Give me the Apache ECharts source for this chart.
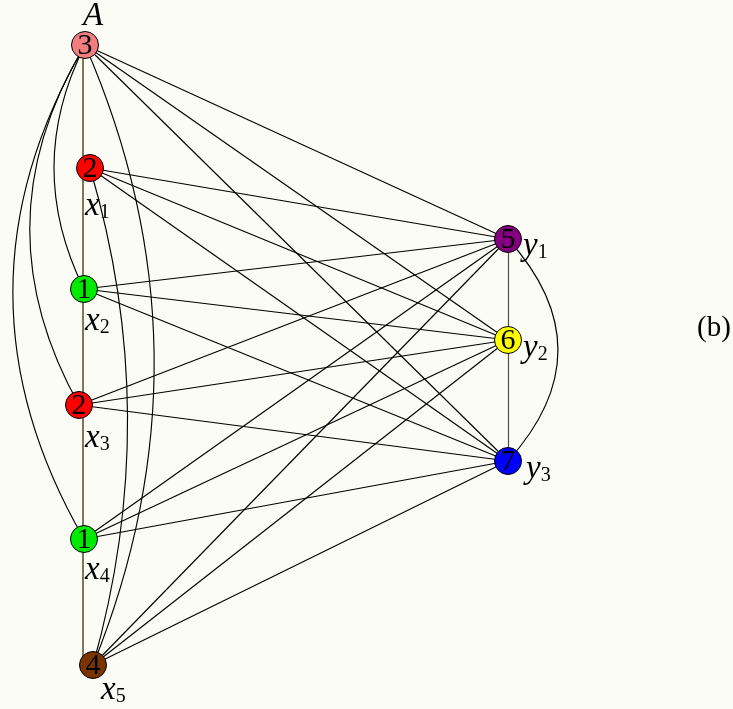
<!DOCTYPE html>
<html>
<head>
<meta charset="utf-8">
<script src="https://cdn.jsdelivr.net/npm/echarts@6/dist/echarts.min.js"></script>
<style>
  html, body { margin: 0; padding: 0; background: #fbfcf6; }
  #chart { width: 733px; height: 709px; }
</style>
</head>
<body>
<div id="chart"></div>
<script>
// ---- graph data ----
const nodeIds     = ['A', 'x1', 'x2', 'x3', 'x4', 'x5', 'y1', 'y2', 'y3'];
const nodeNumbers = [3, 2, 1, 2, 1, 4, 5, 6, 7];
const nodeX       = [85, 90, 84, 79, 84, 93, 508, 508, 508];
const nodeY       = [45, 168, 289, 405, 539, 665, 239, 340, 461];
const nameLetters = ['A', 'x', 'x', 'x', 'x', 'x', 'y', 'y', 'y'];
const nameIndices = ['', '1', '2', '3', '4', '5', '1', '2', '3'];

// every left vertex joined to every right vertex
const straightEdges = [
  ['A', 'y1'], ['A', 'y2'], ['A', 'y3'],
  ['x1', 'y1'], ['x1', 'y2'], ['x1', 'y3'],
  ['x2', 'y1'], ['x2', 'y2'], ['x2', 'y3'],
  ['x3', 'y1'], ['x3', 'y2'], ['x3', 'y3'],
  ['x4', 'y1'], ['x4', 'y2'], ['x4', 'y3'],
  ['x5', 'y1'], ['x5', 'y2'], ['x5', 'y3']
];
const curvedEdges = [['A', 'x2'], ['A', 'x3'], ['A', 'x4'], ['A', 'x5'], ['x1', 'x5'], ['y1', 'y3']];
const rightPath   = [['y1', 'y2'], ['y2', 'y3']];
const leftPath    = ['A', 'x5'];

// ---- styling ----
const nodeColors = {
  A: '#f27e80', x1: '#ff0000', x2: '#00ea00', x3: '#ff0000', x4: '#00ea00',
  x5: '#7a3400', y1: '#840080', y2: '#ffff00', y3: '#0000ff'
};
const bend = { 'A-x2': -0.25, 'A-x3': -0.29, 'A-x4': -0.29, 'A-x5': 0.21, 'x1-x5': 0.145, 'y1-y3': 0.45 };
const nameOffset = {
  A: [-2, -29], x1: [-5, 38], x2: [1, 32], x3: [6, 33], x4: [1, 31],
  x5: [8, 25], y1: [15, 7], y2: [15, 8], y3: [18, 8]
};
const spineShift = -2;
const serif = '"Liberation Serif", "DejaVu Serif", serif';
const ink = '#000000';

const idx = id => nodeIds.indexOf(id);

const graphNodes = nodeIds.map((id, i) => ({
  name: id,
  value: [nodeX[i], nodeY[i]],
  itemStyle: { color: nodeColors[id] }
}));

const links = [];
straightEdges.forEach(([s, t]) => links.push({ source: s, target: t }));
curvedEdges.forEach(([s, t]) => links.push({
  source: s, target: t, lineStyle: { curveness: bend[s + '-' + t] }
}));
rightPath.forEach(([s, t]) => links.push({
  source: s, target: t, lineStyle: { color: '#4d4d4d', width: 1.2 }
}));

const a = idx(leftPath[0]), b = idx(leftPath[1]);
const spine = [[nodeX[a] + spineShift, nodeY[a]], [nodeX[a] + spineShift, nodeY[b]]];

const labelPoints = nodeIds.map((id, i) => ({
  value: [nodeX[i], nodeY[i]],
  label: {
    offset: nameOffset[id],
    formatter: nameIndices[i]
      ? '{m|' + nameLetters[i] + '}{s|' + nameIndices[i] + '}'
      : '{m|' + nameLetters[i] + '}'
  }
}));

const chart = echarts.init(document.getElementById('chart'), null, { renderer: 'canvas' });
chart.setOption({
  backgroundColor: '#fbfcf6',
  animation: false,
  title: {
    text: '(b)', left: 692, top: 309,
    textStyle: { fontFamily: serif, fontSize: 29, fontWeight: 'normal', color: ink }
  },
  grid: { left: 0, right: 0, top: 0, bottom: 0 },
  xAxis: { type: 'value', min: 0, max: 733, show: false },
  yAxis: { type: 'value', min: 0, max: 709, inverse: true, show: false },
  series: [
    {
      type: 'lines',
      coordinateSystem: 'cartesian2d',
      silent: true,
      z: 1,
      lineStyle: { color: '#5a4b1e', width: 1.5, opacity: 1 },
      data: [{ coords: spine }]
    },
    {
      type: 'graph',
      coordinateSystem: 'cartesian2d',
      silent: true,
      z: 2,
      symbol: 'circle',
      symbolSize: 27,
      itemStyle: { borderColor: '#000', borderWidth: 1 },
      lineStyle: { color: '#000', width: 1.15, opacity: 1 },
      label: {
        show: true, position: 'inside', color: ink,
        fontFamily: serif, fontSize: 30, offset: [0, 1],
        formatter: p => String(nodeNumbers[p.dataIndex])
      },
      data: graphNodes,
      links: links
    },
    {
      type: 'scatter',
      silent: true,
      z: 3,
      symbolSize: 1,
      itemStyle: { color: 'transparent', opacity: 1 },
      label: {
        show: true, position: 'inside', align: 'left', verticalAlign: 'middle',
        color: ink, opacity: 1,
        rich: {
          m: { fontFamily: serif, fontStyle: 'italic', fontSize: 33, lineHeight: 34, color: ink },
          s: { fontFamily: serif, fontSize: 20, lineHeight: 19, verticalAlign: 'bottom', color: ink }
        }
      },
      data: labelPoints
    }
  ]
});
</script>
</body>
</html>
